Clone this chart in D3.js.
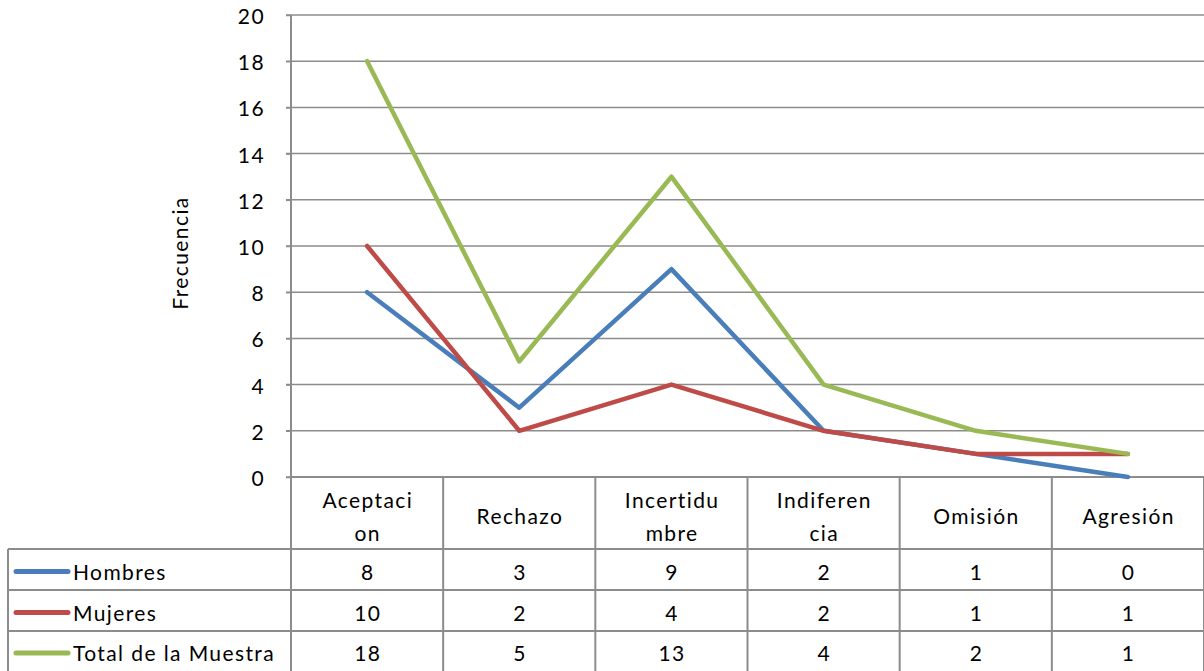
<!DOCTYPE html>
<html><head><meta charset="utf-8">
<script src="https://cdn.jsdelivr.net/npm/d3@7"></script>
<style>body{margin:0;background:#fff}svg{display:block}text{font-family:Lato,"Open Sans",sans-serif;fill:#000;letter-spacing:1.4px}</style>
</head><body>
<script>
const categories = ["Aceptacion","Rechazo","Incertidumbre","Indiferencia","Omisión","Agresión"];
const categoryLines = [["Aceptaci","on"],["Rechazo"],["Incertidu","mbre"],["Indiferen","cia"],["Omisión"],["Agresión"]];
const seriesNames = ["Hombres","Mujeres","Total de la Muestra"];
const hombres = [8,3,9,2,1,0];
const mujeres = [10,2,4,2,1,1];
const total = [18,5,13,4,2,1];
const yTicks = [0,2,4,6,8,10,12,14,16,18,20];
const colors = ["#4a7ebb","#be4b48","#98b954"];
const series = [hombres, mujeres, total];

const W=1204,H=671;
const svg=d3.select("body").append("svg").attr("width",W).attr("height",H);
const pLeft=291,pRight=1204,pTop=15,pBottom=477;
const x=d3.scaleBand().domain(categories).range([pLeft,pRight]);
const y=d3.scaleLinear().domain([0,20]).range([pBottom,pTop]);
const grid="#8c8c8c";
const fs=21;

svg.append("g").selectAll("line").data(yTicks).join("line")
 .attr("x1",pLeft-5).attr("x2",pRight).attr("y1",d=>y(d)).attr("y2",d=>y(d))
 .attr("stroke",grid).attr("stroke-width",1.5);
const ya=svg.append("g").attr("transform",`translate(${pLeft},0)`).call(d3.axisLeft(y).tickValues(yTicks).tickSize(5).tickPadding(21));
ya.select(".domain").remove();
ya.selectAll("line").attr("stroke",grid).attr("stroke-width",1.5);
ya.selectAll("text").style("font-size",fs+"px").style("font-family","Lato, sans-serif").attr("dy","0.4em");
svg.append("line").attr("x1",pLeft).attr("x2",pLeft).attr("y1",pTop).attr("y2",H).attr("stroke",grid).attr("stroke-width",2);

svg.append("text").attr("transform",`translate(181,253) rotate(-90)`).attr("text-anchor","middle").attr("dy","0.35em")
 .style("font-size",fs+"px").text("Frecuencia");

const rowY=[477,549,590,631,671];
const tbl=svg.append("g");
tbl.append("line").attr("x1",pLeft).attr("x2",pRight).attr("y1",rowY[0]).attr("y2",rowY[0]).attr("stroke",grid).attr("stroke-width",2);
for(let i=1;i<4;i++) tbl.append("line").attr("x1",8).attr("x2",pRight).attr("y1",rowY[i]).attr("y2",rowY[i]).attr("stroke",grid).attr("stroke-width",2);
categories.forEach(c=>{
  const xx=x(c)+x.bandwidth();
  tbl.append("line").attr("x1",xx).attr("x2",xx).attr("y1",rowY[0]).attr("y2",H).attr("stroke",grid).attr("stroke-width",2);
});
tbl.append("line").attr("x1",8).attr("x2",8).attr("y1",rowY[1]).attr("y2",H).attr("stroke",grid).attr("stroke-width",2);
categories.forEach((c,i)=>{
  const lines=categoryLines[i];
  const cx=x(c)+x.bandwidth()/2;
  const cy=(rowY[0]+rowY[1])/2+4;
  lines.forEach((t,j)=>{
    tbl.append("text").attr("x",cx+0.7).attr("y",cy+(j-(lines.length-1)/2)*33).attr("dy","0.35em")
      .attr("text-anchor","middle").style("font-size",fs+"px").text(t);
  });
});
seriesNames.forEach((n,si)=>{
  const cy=(rowY[si+1]+rowY[si+2])/2+3;
  tbl.append("line").attr("x1",16).attr("x2",68).attr("y1",cy-1).attr("y2",cy-1).attr("stroke",colors[si]).attr("stroke-width",5).attr("stroke-linecap","round");
  tbl.append("text").attr("x",73).attr("y",cy).attr("dy","0.35em").style("font-size",fs+"px").text(n);
  series[si].forEach((v,ci)=>{
    tbl.append("text").attr("x",x(categories[ci])+x.bandwidth()/2+0.7).attr("y",cy).attr("dy","0.35em")
      .attr("text-anchor","middle").style("font-size",fs+"px").text(v);
  });
});

const line=d3.line().x((d,i)=>x(categories[i])+x.bandwidth()/2).y(d=>y(d));
series.forEach((s,si)=>{
  svg.append("path").datum(s).attr("d",line).attr("fill","none").attr("stroke",colors[si])
   .attr("stroke-width",4.5).attr("stroke-linejoin","round").attr("stroke-linecap","round");
});
</script>
</body></html>
